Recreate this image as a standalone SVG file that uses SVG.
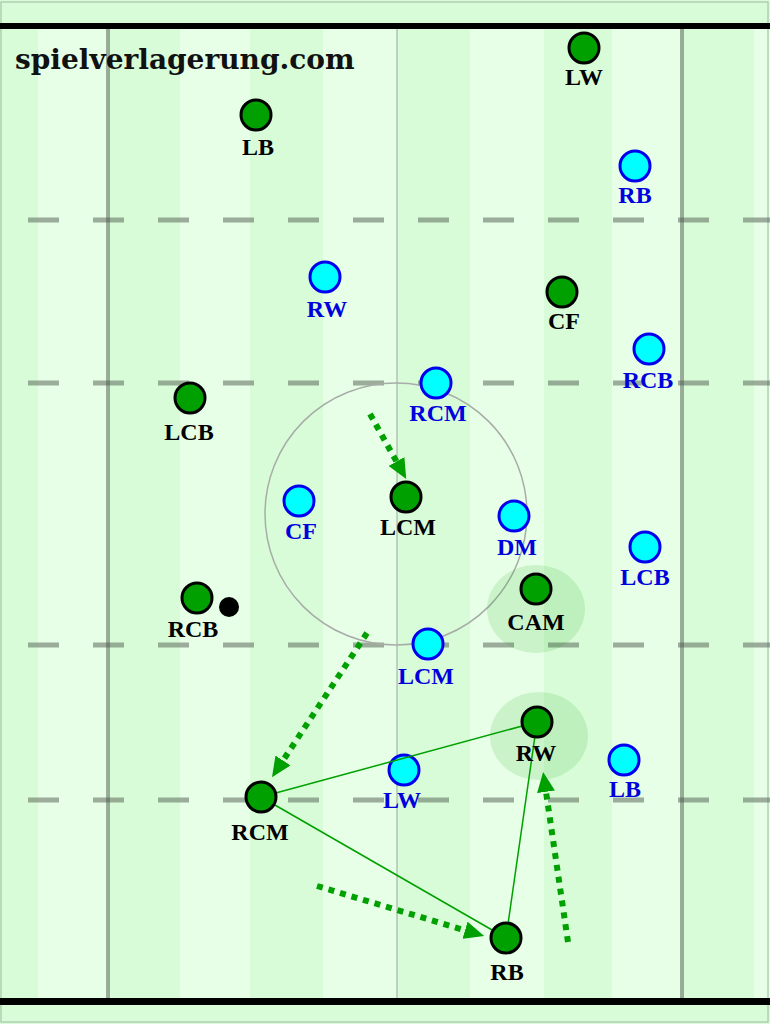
<svg xmlns="http://www.w3.org/2000/svg" width="770" height="1024" viewBox="0 0 770 1024">
<defs>
<style>
.lite{fill:#e6ffe6}
.gl{stroke:#505a50;stroke-opacity:0.5;fill:none}
.dash{stroke:#505a50;stroke-opacity:0.5;stroke-width:5;stroke-dasharray:31 34;fill:none}
.g circle{fill:#00a000;stroke:#000;stroke-width:3}
.c circle{fill:#00ffff;stroke:#0000ee;stroke-width:3}
.g text{font-family:"Liberation Serif","Times New Roman",serif;font-weight:bold;font-size:24px;fill:#000;text-anchor:middle}
.c text{font-family:"Liberation Serif","Times New Roman",serif;font-weight:bold;font-size:24px;fill:#0000dd;text-anchor:middle}
.link{stroke:#00a000;stroke-width:1.5;fill:none}
.run{stroke:#00a000;stroke-width:6;stroke-dasharray:6 6;fill:none;marker-end:url(#ah)}
.hl{fill:#00a000;fill-opacity:0.12}
</style>
<marker id="ah" markerUnits="userSpaceOnUse" markerWidth="20" markerHeight="18" viewBox="0 0 20 18" refX="0" refY="9" orient="auto">
<path d="M0,0 L20,9 L0,18 z" fill="#00a000"/>
</marker>
</defs>
<g id="pitch">
<rect x="0" y="0" width="770" height="1024" fill="#d8fcd8"/>
<rect class="lite" x="38" y="29" width="70" height="969"/>
<rect class="lite" x="180" y="29" width="70" height="969"/>
<rect class="lite" x="323" y="29" width="74" height="969"/>
<rect class="lite" x="470" y="29" width="74" height="969"/>
<rect class="lite" x="612" y="29" width="70" height="969"/>
<rect class="lite" x="754" y="29" width="16" height="969"/>
<rect x="1" y="2" width="767" height="1020" fill="none" stroke="#a8c4a8" stroke-width="1.2"/>
<line class="gl" x1="108" y1="29" x2="108" y2="998" stroke-width="4"/>
<line class="gl" x1="682" y1="29" x2="682" y2="998" stroke-width="4"/>
<line x1="397" y1="29" x2="397" y2="998" stroke="#a8b4a8" stroke-width="1.2"/>
<line class="dash" x1="28" y1="220" x2="770" y2="220"/>
<line class="dash" x1="28" y1="383" x2="770" y2="383"/>
<line class="dash" x1="28" y1="645" x2="770" y2="645"/>
<line class="dash" x1="28" y1="800" x2="770" y2="800"/>
<circle cx="396" cy="514" r="131" fill="none" stroke="#a8aca8" stroke-width="1.5"/>
<line x1="0" y1="26" x2="770" y2="26" stroke="#000" stroke-width="6"/>
<line x1="0" y1="1001.5" x2="770" y2="1001.5" stroke="#000" stroke-width="7"/>
<text x="15" y="69" font-family="DejaVu Serif, serif" font-weight="bold" font-size="28" fill="#111">spielverlagerung.com</text>
</g>
<g id="highlights">
<ellipse class="hl" cx="536" cy="609" rx="49" ry="44"/>
<ellipse class="hl" cx="539" cy="736" rx="49" ry="44"/>
</g>
<g id="opp">
<g id="o-RB" class="c"><circle cx="635" cy="166" r="15"/><text x="635" y="203">RB</text></g>
<g id="o-RW" class="c"><circle cx="325" cy="277" r="15"/><text x="327" y="317">RW</text></g>
<g id="o-RCB" class="c"><circle cx="649" cy="349" r="15"/><text x="648" y="388">RCB</text></g>
<g id="o-RCM" class="c"><circle cx="436" cy="383" r="15"/><text x="438" y="421">RCM</text></g>
<g id="o-CF" class="c"><circle cx="299" cy="501" r="15"/><text x="301" y="539">CF</text></g>
<g id="o-DM" class="c"><circle cx="514" cy="516" r="15"/><text x="517" y="555">DM</text></g>
<g id="o-LCB" class="c"><circle cx="645" cy="547" r="15"/><text x="645" y="585">LCB</text></g>
<g id="o-LCM" class="c"><circle cx="428" cy="644" r="15"/><text x="426" y="684">LCM</text></g>
<g id="o-LB" class="c"><circle cx="624" cy="760" r="15"/><text x="625" y="797">LB</text></g>
<g id="o-LW" class="c"><circle cx="404" cy="770" r="15"/><text x="402" y="808">LW</text></g>
</g>
<g id="connectors">
<line class="link" x1="261" y1="797" x2="537" y2="722"/>
<line class="link" x1="261" y1="797" x2="506" y2="938"/>
<line class="link" x1="506" y1="938" x2="537" y2="722"/>
<line class="run" x1="370" y1="414" x2="396.5" y2="461.5"/>
<line class="run" x1="367" y1="633" x2="283" y2="760.5"/>
<line class="run" x1="317" y1="886" x2="465" y2="930.3"/>
<line class="run" x1="568" y1="942" x2="546" y2="791.8"/>
</g>
<g id="team">
<g id="LW" class="g"><circle cx="584" cy="48" r="15"/><text x="584" y="85">LW</text></g>
<g id="LB" class="g"><circle cx="256" cy="115" r="15"/><text x="258" y="155">LB</text></g>
<g id="CF" class="g"><circle cx="562" cy="292" r="15"/><text x="564" y="329">CF</text></g>
<g id="LCB" class="g"><circle cx="190" cy="398" r="15"/><text x="189" y="440">LCB</text></g>
<g id="LCM" class="g"><circle cx="406" cy="497" r="15"/><text x="408" y="535">LCM</text></g>
<g id="CAM" class="g"><circle cx="536" cy="589" r="15"/><text x="536" y="630">CAM</text></g>
<g id="RCB" class="g"><circle cx="197" cy="598" r="15"/><text x="193" y="637">RCB</text></g>
<g id="ball"><circle cx="229" cy="607" r="10" fill="#000"/></g>
<g id="RW" class="g"><circle cx="537" cy="722" r="15"/><text x="536" y="761">RW</text></g>
<g id="RCM" class="g"><circle cx="261" cy="797" r="15"/><text x="260" y="840">RCM</text></g>
<g id="RB" class="g"><circle cx="506" cy="938" r="15"/><text x="507" y="980">RB</text></g>
</g>
</svg>
